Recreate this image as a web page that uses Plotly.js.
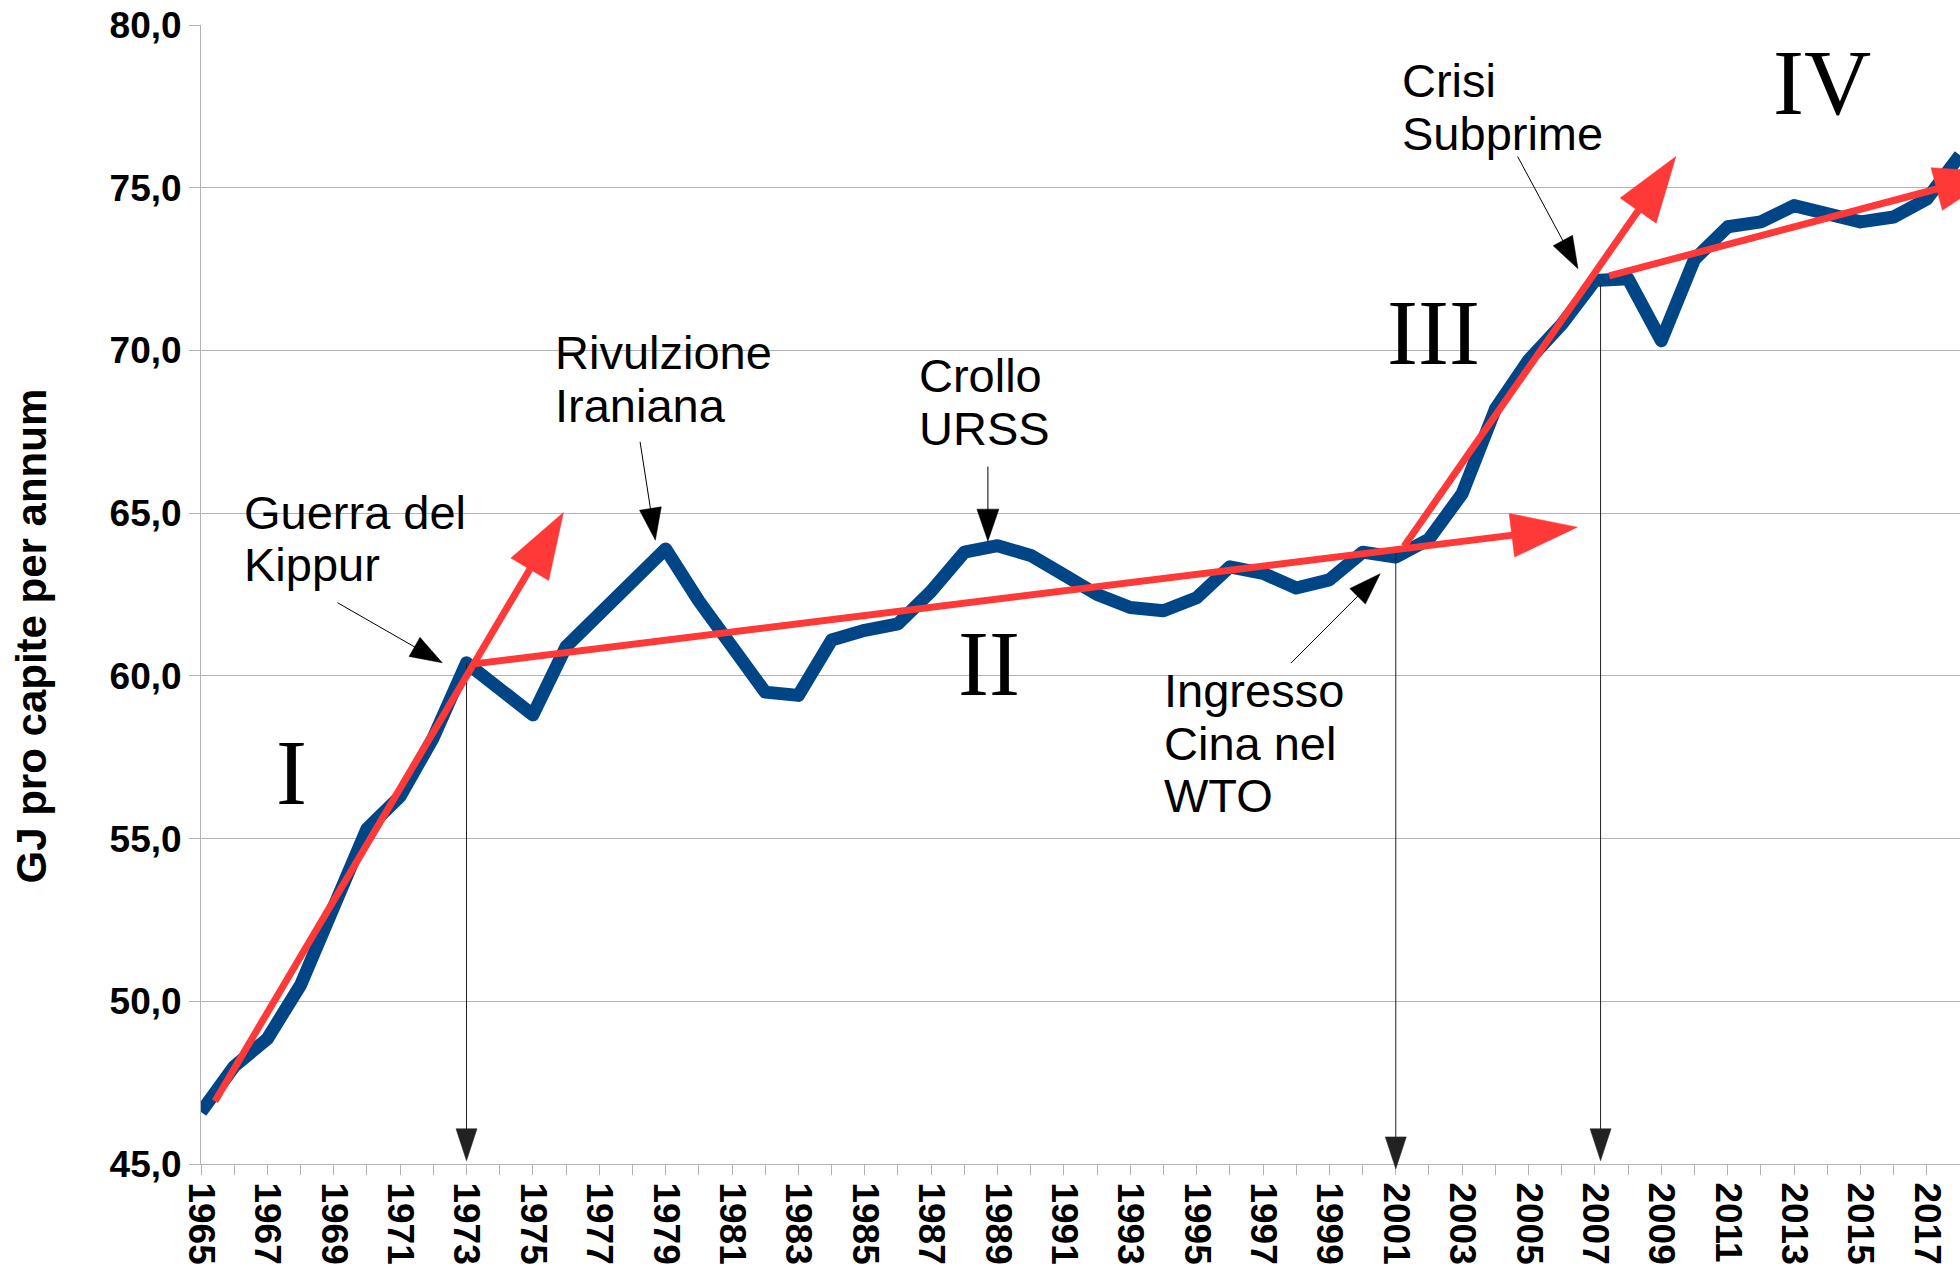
<!DOCTYPE html>
<html>
<head>
<meta charset="utf-8">
<script src="https://cdn.plot.ly/plotly-3.0.1.min.js"></script>
<style>
  html, body { margin: 0; padding: 0; background: #fff; }
  #chart { width: 1960px; height: 1271px; }
  .scatterlayer .js-line { stroke-linejoin: round !important; stroke-linecap: butt !important; }
</style>
</head>
<body>
<div id="chart"></div>
<script>
// ---------------- data ----------------
const years = [
  1965, 1966, 1967, 1968, 1969, 1970, 1971, 1972, 1973, 1974,
  1975, 1976, 1977, 1978, 1979, 1980, 1981, 1982, 1983, 1984,
  1985, 1986, 1987, 1988, 1989, 1990, 1991, 1992, 1993, 1994,
  1995, 1996, 1997, 1998, 1999, 2000, 2001, 2002, 2003, 2004,
  2005, 2006, 2007, 2008, 2009, 2010, 2011, 2012, 2013, 2014,
  2015, 2016, 2017, 2018
];
const gjPerCapita = [
  46.6, 48.0, 48.85, 50.5, 52.9, 55.3, 56.3, 58.1, 60.4, 59.6,
  58.8, 60.9, 61.9, 62.9, 63.9, 62.3, 60.85, 59.5, 59.4, 61.1,
  61.4, 61.6, 62.6, 63.8, 64.0, 63.7, 63.1, 62.5, 62.1, 62.0,
  62.4, 63.35, 63.15, 62.7, 62.95, 63.8, 63.65, 64.2, 65.6, 68.2,
  69.7, 70.8, 72.15, 72.2, 70.3, 72.8, 73.8, 73.95, 74.45, 74.2,
  73.95, 74.1, 74.65, 76.0
];
const yAxisTitle = 'GJ pro capite per annum';

// phases (roman numerals)
const phaseLabels = ['I', 'II', 'III', 'IV'];
const phaseLabelX = [1967.74, 1988.73, 2002.14, 2013.84];
const phaseLabelY = [57.04, 60.39, 70.56, 78.23];

// trend arrows (red): start and end [year, value]
const trendStart = [[1965.42, 46.93], [1973.16, 60.36], [2001.25, 63.98], [2007.43, 72.29]];
const trendEnd   = [[1975.92, 65.02], [2006.47, 64.57], [2009.44, 75.96], [2019.22, 75.48]];

// events: text lines, text anchor, arrow tail and tip
const eventText = [
  ['Guerra del', 'Kippur'],
  ['Rivulzione', 'Iraniana'],
  ['Crollo', 'URSS'],
  ['Ingresso', 'Cina nel', 'WTO'],
  ['Crisi', 'Subprime']
];
const eventTextX = [1966.31, 1975.67, 1986.62, 1994.01, 2001.18];
const eventTextY = [65.03, 69.93, 69.22, 59.55, 78.28];
const eventArrowTail = [[1969.11, 62.25], [1978.23, 67.19], [1988.71, 66.43], [1997.84, 60.39], [2004.67, 75.96]];
const eventArrowTip  = [[1972.27, 60.40], [1978.69, 64.17], [1988.71, 64.14], [2000.53, 63.14], [2006.49, 72.51]];

// vertical markers down to the time axis
const markerTail = [[1973.0, 60.4], [2001.0, 63.87], [2007.17, 72.02]];
const markerTip  = [[1973.0, 45.1], [2001.0, 44.85], [2007.17, 45.1]];

// ---------------- layout constants ----------------
const W = 1960, H = 1271;
const M = { l: 201, r: 0, t: 25, b: 107 };
const xRange = [1965, 2018];
const yRange = [45, 80];
const plotW = W - M.l - M.r, plotH = H - M.t - M.b;
const pxX = plotW / (xRange[1] - xRange[0]);
const pxY = plotH / (yRange[1] - yRange[0]);

const RED = '#ff3838';
const BLUE = '#004586';
const GRID = '#b3b3b3';

function f(v) { return v.toFixed(2); }

// arrow built from two pixel-sized path shapes anchored at the tip
function arrow(tail, tip, o) {
  const dx = (tip[0] - tail[0]) * pxX;
  const dy = (tip[1] - tail[1]) * pxY;
  const len = Math.hypot(dx, dy);
  const ux = dx / len, uy = dy / len;
  const nx = -uy, ny = ux;
  const bx = -o.headLen * ux, by = -o.headLen * uy;
  const hw = o.headW / 2;
  const usePaper = !!o.paper;
  const base = {
    type: 'path', xref: 'x', yref: usePaper ? 'paper' : 'y',
    xsizemode: 'pixel', ysizemode: 'pixel',
    xanchor: tip[0],
    yanchor: usePaper ? (tip[1] - yRange[0]) / (yRange[1] - yRange[0]) : tip[1],
    layer: 'above'
  };
  const shaft = Object.assign({}, base, {
    path: 'M' + f(-dx) + ',' + f(-dy) + ' L' + f(bx + 3 * ux) + ',' + f(by + 3 * uy),
    line: { color: o.color, width: o.width },
    fillcolor: 'rgba(0,0,0,0)'
  });
  const head = Object.assign({}, base, {
    path: 'M0,0 L' + f(bx + hw * nx) + ',' + f(by + hw * ny) +
          ' L' + f(bx - hw * nx) + ',' + f(by - hw * ny) + ' Z',
    line: { color: o.color, width: 0.5 },
    fillcolor: o.color
  });
  return [shaft, head];
}

let shapes = [];
for (let i = 0; i < markerTail.length; i++) {
  shapes = shapes.concat(arrow(markerTail[i], markerTip[i],
    { color: '#222', width: 1, headLen: 32, headW: 21, paper: true }));
}
for (let i = 0; i < eventArrowTail.length; i++) {
  shapes = shapes.concat(arrow(eventArrowTail[i], eventArrowTip[i],
    { color: '#000', width: 1, headLen: 32, headW: 22 }));
}
for (let i = 0; i < trendStart.length; i++) {
  shapes = shapes.concat(arrow(trendStart[i], trendEnd[i],
    { color: RED, width: 7, headLen: 66, headW: 44 }));
}

const annotations = [];
const lineStep = 1.62;
eventText.forEach(function (lines, i) {
  lines.forEach(function (t, j) {
    annotations.push({
      xref: 'x', yref: 'y', x: eventTextX[i], y: eventTextY[i] - j * lineStep,
      xanchor: 'left', yanchor: 'middle', text: t, showarrow: false,
      borderpad: 0, borderwidth: 0,
      font: { family: 'Liberation Sans, Arial, sans-serif', size: 47, color: '#000' }
    });
  });
});
phaseLabels.forEach(function (t, i) {
  annotations.push({
    xref: 'x', yref: 'y', x: phaseLabelX[i], y: phaseLabelY[i],
    xanchor: 'center', yanchor: 'middle', text: t, showarrow: false,
    borderpad: 0, borderwidth: 0,
    font: { family: 'Liberation Serif, Times New Roman, serif', size: 93, color: '#000' }
  });
});
annotations.push({
  xref: 'paper', yref: 'paper',
  x: (30.5 - M.l) / plotW, y: (H - M.b - 636) / plotH,
  xanchor: 'center', yanchor: 'middle', textangle: -90,
  text: yAxisTitle, showarrow: false, borderpad: 0, borderwidth: 0,
  font: { family: 'Liberation Sans, Arial, sans-serif', size: 42, color: '#000', weight: 'bold' }
});

const tickFont = { family: 'Liberation Sans, Arial, sans-serif', size: 37, color: '#000', weight: 'bold' };

const data = [{
  type: 'scatter', mode: 'lines', x: years, y: gjPerCapita,
  line: { color: BLUE, width: 13 }, hoverinfo: 'skip', showlegend: false
}];

const layout = {
  width: W, height: H,
  margin: { l: M.l, r: M.r, t: M.t, b: M.b, pad: 0 },
  paper_bgcolor: '#fff', plot_bgcolor: '#fff',
  separators: ',.',
  showlegend: false,
  xaxis: {
    range: xRange, tickmode: 'linear', tick0: 1965, dtick: 2,
    ticks: 'outside', ticklen: 10, tickwidth: 1, tickcolor: GRID,
    tickangle: 90, tickfont: tickFont,
    showgrid: false, zeroline: false,
    showline: true, linecolor: GRID, linewidth: 1,
    automargin: false, fixedrange: true,
    minor: { tick0: 1965, dtick: 1, ticks: 'outside', ticklen: 10, tickwidth: 1, tickcolor: GRID, showgrid: false }
  },
  yaxis: {
    range: yRange, tickmode: 'linear', tick0: 45, dtick: 5, tickformat: '.1f',
    ticks: 'outside', ticklen: 11, tickwidth: 1, tickcolor: GRID,
    tickfont: tickFont,
    showgrid: true, gridcolor: GRID, gridwidth: 1, zeroline: false,
    showline: true, linecolor: GRID, linewidth: 1,
    automargin: false, fixedrange: true
  },
  shapes: shapes,
  annotations: annotations
};

Plotly.newPlot('chart', data, layout, { staticPlot: true, displayModeBar: false });
</script>
</body>
</html>
